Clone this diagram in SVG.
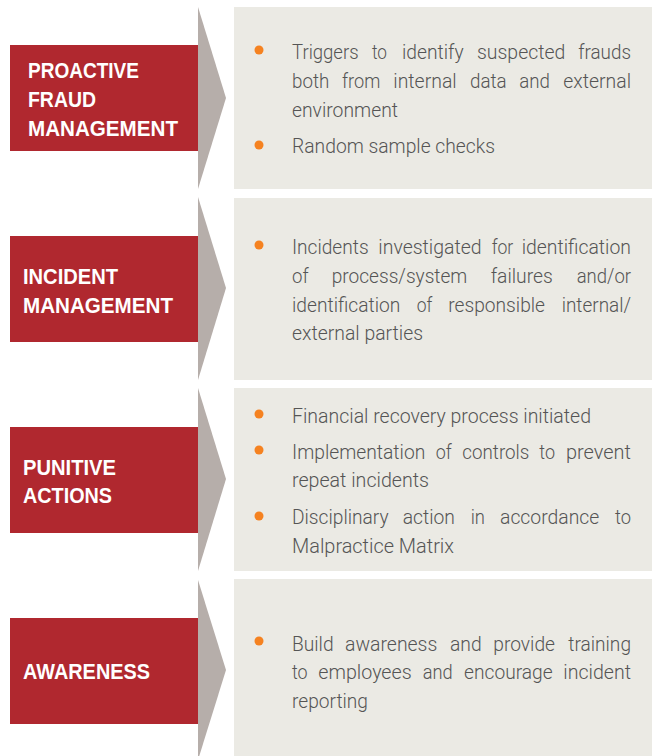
<svg xmlns="http://www.w3.org/2000/svg" width="652" height="756" viewBox="0 0 652 756">
<style>
.panel{fill:#ebeae4}
.label{fill:#b0282f}
.chev{fill:#b6aeaa}
.bul{fill:#f58220}
.h{font-family:"Liberation Sans Narrow","Liberation Sans",Arial,sans-serif;font-weight:bold;font-size:22.5px;fill:#ffffff}
.t{font-family:Roboto,"Liberation Sans",Arial,sans-serif;font-weight:300;font-size:20.5px;fill:#555555}
</style>
<rect width="652" height="756" fill="#ffffff"/>
<g id="connectors">
<polygon class="chev" points="198,7 226,98 198,189"/>
<polygon class="chev" points="198,197 226,288 198,380"/>
<polygon class="chev" points="198,388 226,479 198,571"/>
<polygon class="chev" points="198,580 226,670 198,760"/>
</g>
<g id="proactive-fraud-management">
<rect class="label" x="10" y="45" width="188" height="106"/>
<text class="h" x="28" y="78" textLength="111" lengthAdjust="spacingAndGlyphs">PROACTIVE</text>
<text class="h" x="28" y="107" textLength="68" lengthAdjust="spacingAndGlyphs">FRAUD</text>
<text class="h" x="28" y="136" textLength="150" lengthAdjust="spacingAndGlyphs">MANAGEMENT</text>
<rect class="panel" x="234" y="7" width="418" height="182"/>
<circle class="bul" cx="259" cy="50" r="4.5"/>
<text class="t" y="59"><tspan x="292" textLength="66.6" lengthAdjust="spacingAndGlyphs">Triggers</tspan> <tspan x="372" textLength="15" lengthAdjust="spacingAndGlyphs">to</tspan> <tspan x="402" textLength="61.6" lengthAdjust="spacingAndGlyphs">identify</tspan> <tspan x="477" textLength="88.3" lengthAdjust="spacingAndGlyphs">suspected</tspan> <tspan x="578.3" textLength="52.7" lengthAdjust="spacingAndGlyphs">frauds</tspan></text>
<text class="t" y="88"><tspan x="292" textLength="37.3" lengthAdjust="spacingAndGlyphs">both</tspan> <tspan x="342" textLength="38.3" lengthAdjust="spacingAndGlyphs">from</tspan> <tspan x="393.3" textLength="63.4" lengthAdjust="spacingAndGlyphs">internal</tspan> <tspan x="470" textLength="36.7" lengthAdjust="spacingAndGlyphs">data</tspan> <tspan x="519.3" textLength="30.7" lengthAdjust="spacingAndGlyphs">and</tspan> <tspan x="563.3" textLength="67.7" lengthAdjust="spacingAndGlyphs">external</tspan></text>
<text class="t" x="292" y="117" textLength="106" lengthAdjust="spacingAndGlyphs">environment</text>
<circle class="bul" cx="259" cy="145" r="4.5"/>
<text class="t" x="292" y="153" textLength="203" lengthAdjust="spacingAndGlyphs">Random sample checks</text>
</g>
<g id="incident-management">
<rect class="label" x="10" y="236" width="188" height="106"/>
<text class="h" x="23" y="284" textLength="95" lengthAdjust="spacingAndGlyphs">INCIDENT</text>
<text class="h" x="23" y="313" textLength="150" lengthAdjust="spacingAndGlyphs">MANAGEMENT</text>
<rect class="panel" x="234" y="198" width="418" height="182"/>
<circle class="bul" cx="259" cy="245" r="4.5"/>
<text class="t" y="254"><tspan x="292" textLength="76.6" lengthAdjust="spacingAndGlyphs">Incidents</tspan> <tspan x="378.3" textLength="103.4" lengthAdjust="spacingAndGlyphs">investigated</tspan> <tspan x="491.7" textLength="21.6" lengthAdjust="spacingAndGlyphs">for</tspan> <tspan x="521.7" textLength="109.3" lengthAdjust="spacingAndGlyphs">identification</tspan></text>
<text class="t" y="283"><tspan x="292" textLength="16.6" lengthAdjust="spacingAndGlyphs">of</tspan> <tspan x="331.7" textLength="135.6" lengthAdjust="spacingAndGlyphs">process/system</tspan> <tspan x="490.7" textLength="62" lengthAdjust="spacingAndGlyphs">failures</tspan> <tspan x="576.7" textLength="54.3" lengthAdjust="spacingAndGlyphs">and/or</tspan></text>
<text class="t" y="312"><tspan x="292" textLength="108.3" lengthAdjust="spacingAndGlyphs">identification</tspan> <tspan x="416.7" textLength="15.6" lengthAdjust="spacingAndGlyphs">of</tspan> <tspan x="448.3" textLength="96.7" lengthAdjust="spacingAndGlyphs">responsible</tspan> <tspan x="561.7" textLength="69.3" lengthAdjust="spacingAndGlyphs">internal/</tspan></text>
<text class="t" x="292" y="340" textLength="131" lengthAdjust="spacingAndGlyphs">external parties</text>
</g>
<g id="punitive-actions">
<rect class="label" x="10" y="427" width="188" height="106"/>
<text class="h" x="23" y="475" textLength="93" lengthAdjust="spacingAndGlyphs">PUNITIVE</text>
<text class="h" x="23" y="503" textLength="89" lengthAdjust="spacingAndGlyphs">ACTIONS</text>
<rect class="panel" x="234" y="388" width="418" height="183"/>
<circle class="bul" cx="259" cy="414" r="4.5"/>
<text class="t" x="292" y="423" textLength="299" lengthAdjust="spacingAndGlyphs">Financial recovery process initiated</text>
<circle class="bul" cx="259" cy="450" r="4.5"/>
<text class="t" y="459"><tspan x="292" textLength="133.3" lengthAdjust="spacingAndGlyphs">Implementation</tspan> <tspan x="435.7" textLength="16" lengthAdjust="spacingAndGlyphs">of</tspan> <tspan x="462.3" textLength="67" lengthAdjust="spacingAndGlyphs">controls</tspan> <tspan x="539.3" textLength="15.7" lengthAdjust="spacingAndGlyphs">to</tspan> <tspan x="566" textLength="65" lengthAdjust="spacingAndGlyphs">prevent</tspan></text>
<text class="t" x="292" y="487" textLength="137" lengthAdjust="spacingAndGlyphs">repeat incidents</text>
<circle class="bul" cx="259" cy="516" r="4.5"/>
<text class="t" y="524"><tspan x="292" textLength="96.6" lengthAdjust="spacingAndGlyphs">Disciplinary</tspan> <tspan x="402.7" textLength="52.3" lengthAdjust="spacingAndGlyphs">action</tspan> <tspan x="470.7" textLength="14.3" lengthAdjust="spacingAndGlyphs">in</tspan> <tspan x="500" textLength="99.3" lengthAdjust="spacingAndGlyphs">accordance</tspan> <tspan x="615" textLength="16" lengthAdjust="spacingAndGlyphs">to</tspan></text>
<text class="t" x="292" y="553" textLength="162" lengthAdjust="spacingAndGlyphs">Malpractice Matrix</text>
</g>
<g id="awareness">
<rect class="label" x="10" y="618" width="188" height="106"/>
<text class="h" x="23" y="679" textLength="127" lengthAdjust="spacingAndGlyphs">AWARENESS</text>
<rect class="panel" x="234" y="579" width="418" height="180"/>
<circle class="bul" cx="259" cy="641" r="4.5"/>
<text class="t" y="651"><tspan x="292" textLength="41.6" lengthAdjust="spacingAndGlyphs">Build</tspan> <tspan x="345" textLength="92.3" lengthAdjust="spacingAndGlyphs">awareness</tspan> <tspan x="450" textLength="31.7" lengthAdjust="spacingAndGlyphs">and</tspan> <tspan x="493.3" textLength="61.7" lengthAdjust="spacingAndGlyphs">provide</tspan> <tspan x="568.3" textLength="62.7" lengthAdjust="spacingAndGlyphs">training</tspan></text>
<text class="t" y="679"><tspan x="292" textLength="15.6" lengthAdjust="spacingAndGlyphs">to</tspan> <tspan x="318.3" textLength="93.4" lengthAdjust="spacingAndGlyphs">employees</tspan> <tspan x="422.7" textLength="30" lengthAdjust="spacingAndGlyphs">and</tspan> <tspan x="464" textLength="88.7" lengthAdjust="spacingAndGlyphs">encourage</tspan> <tspan x="563.3" textLength="67.7" lengthAdjust="spacingAndGlyphs">incident</tspan></text>
<text class="t" x="292" y="708" textLength="76" lengthAdjust="spacingAndGlyphs">reporting</text>
</g>
</svg>
